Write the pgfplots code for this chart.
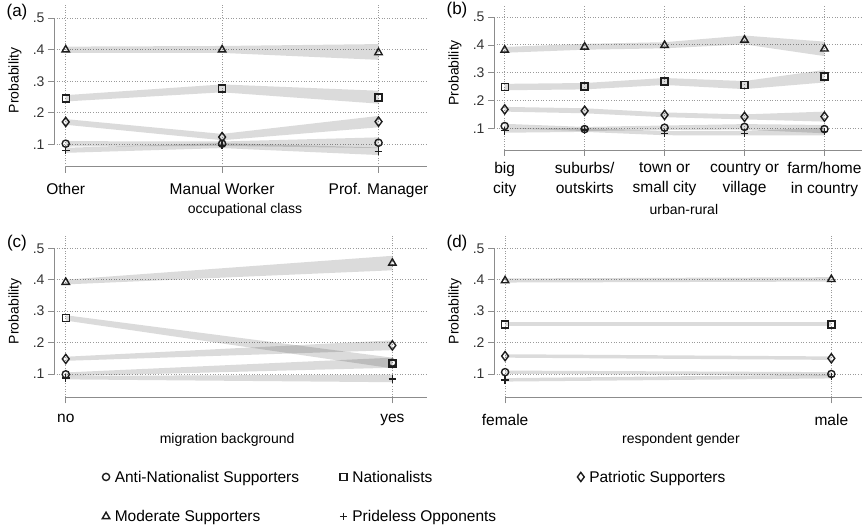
\documentclass[border=0pt]{standalone}
\usepackage{fontspec}
\setmainfont{Liberation Sans}
\usepackage{pgfplots}
\pgfplotsset{compat=1.18}

\definecolor{axisgray}{HTML}{8C8C8C}
\definecolor{gridgray}{HTML}{9A9A9A}
\definecolor{tickcol}{HTML}{333333}
\definecolor{mk}{HTML}{1E1E1E}

\newcommand{\catfont}{\fontsize{15.5}{20}\selectfont}
\newcommand{\tickfont}{\fontsize{14}{16}\selectfont}
\newcommand{\labfont}{\fontsize{14}{16}\selectfont}
\newcommand{\panfont}{\fontsize{17}{20}\selectfont}

\tikzset{
  axline/.style={draw=axisgray, line width=0.9pt},
  gridline/.style={draw=gridgray, line width=1pt, dash pattern=on 1pt off 1.6pt},
}

% dotted grid: horizontal at .1,...,.5 and vertical at each category
\newcommand{\hgrid}[2]{\pgfplotsinvokeforeach{0.1,0.2,0.3,0.4,0.5}{\draw[gridline] (axis cs:#1,##1) -- (axis cs:#2,##1);}}
\newcommand{\vgrid}[3]{\pgfplotsinvokeforeach{#1}{\draw[gridline] (axis cs:##1,#2) -- (axis cs:##1,#3);}}

\pgfplotsset{
  panel/.style={
    scale only axis, anchor=south west, clip=false,
    axis line style={draw=none},
    tick align=outside, xtick pos=left, ytick pos=left,
    major tick length=6pt,
    tick style={draw=axisgray, line width=0.9pt},
    ytick={0.1,0.2,0.3,0.4,0.5},
    yticklabels={.1,.2,.3,.4,.5},
    yticklabel style={font=\tickfont, text=tickcol},
    xticklabel style={font=\catfont, text=black, align=center, yshift=-7pt},
    ylabel={Probability},
    ylabel style={font=\labfont, at={(axis description cs:0,0.533)}, anchor=center, yshift=39pt},
    xlabel style={font=\labfont, anchor=center},
    title style={font=\panfont, at={(axis description cs:0,0.92)}, anchor=center, xshift=-37pt},
  },
  band/.style={draw=none, fill=black, fill opacity=0.14, forget plot},
  m/.style={only marks, mark options={draw=mk, fill=none, line width=1.4pt}},
  mcirc/.style={m, mark=o, mark size=3.6pt},
  msq/.style={m, mark=square, mark size=3.5pt},
  mdia/.style={m, mark=diamond, mark size=4.6pt},
  mtri/.style={m, mark=triangle, mark size=4.3pt},
  mplus/.style={m, mark=+, mark size=3.8pt},
}

\begin{document}
\begin{tikzpicture}
\useasboundingbox (0,0) rectangle (864pt,527pt);

% (a) occupational class
\begin{axis}[panel, at={(54pt,360.3pt)}, width=373pt, height=161.7pt,
  xmin=-0.075, xmax=2.31, ymin=0.029, ymax=0.542,
  xtick={0,1,2}, xticklabels={Other,Manual Worker,Prof. Manager},
  xlabel={occupational class},
  xlabel style={at={(axis description cs:0.512,0)}, yshift=-43pt},
  title={(a)}]
\hgrid{-0.075}{2.31}
\vgrid{0,1,2}{0.029}{0.542}
\addplot[band] coordinates {(0,0.390)(1,0.390)(2,0.368)(2,0.418)(1,0.412)(0,0.410)} -- cycle;
\addplot[band] coordinates {(0,0.236)(1,0.265)(2,0.229)(2,0.270)(1,0.290)(0,0.256)} -- cycle;
\addplot[band] coordinates {(0,0.162)(1,0.113)(2,0.154)(2,0.190)(1,0.133)(0,0.180)} -- cycle;
\addplot[band] coordinates {(0,0.093)(1,0.095)(2,0.088)(2,0.122)(1,0.109)(0,0.110)} -- cycle;
\addplot[band] coordinates {(0,0.073)(1,0.088)(2,0.066)(2,0.090)(1,0.104)(0,0.089)} -- cycle;
\addplot[mcirc] coordinates {(0,0.102)(1,0.102)(2,0.105)};
\addplot[msq] coordinates {(0,0.245)(1,0.277)(2,0.249)};
\addplot[mdia] coordinates {(0,0.171)(1,0.123)(2,0.172)};
\addplot[mtri] coordinates {(0,0.400)(1,0.400)(2,0.391)};
\addplot[mplus] coordinates {(0,0.081)(1,0.096)(2,0.078)};
\draw[axline] (axis cs:-0.075,0.1) -- (axis cs:-0.075,0.5);
\draw[axline] (axis cs:0,0.029) -- (axis cs:2.31,0.029);
\end{axis}

% (b) urban-rural
\begin{axis}[panel, at={(494pt,377pt)}, width=368pt, height=145pt,
  xmin=-0.134, xmax=4.47, ymin=0.0218, ymax=0.544,
  xtick={0,1,2,3,4},
  xticklabels={big\\city,suburbs/\\outskirts,town or\\small city,country or\\village,farm/home\\in country},
  xticklabel style={yshift=4pt},
  xlabel={urban-rural},
  xlabel style={at={(axis description cs:0.516,0)}, yshift=-60pt},
  title={(b)}]
\hgrid{-0.134}{4.47}
\vgrid{0,1,2,3,4}{0.0218}{0.544}
\addplot[band] coordinates {(0,0.372)(1,0.383)(2,0.388)(3,0.402)(4,0.360)(4,0.412)(3,0.434)(2,0.410)(1,0.404)(0,0.393)} -- cycle;
\addplot[band] coordinates {(0,0.237)(1,0.240)(2,0.256)(3,0.241)(4,0.265)(4,0.310)(3,0.270)(2,0.281)(1,0.263)(0,0.260)} -- cycle;
\addplot[band] coordinates {(0,0.160)(1,0.154)(2,0.140)(3,0.132)(4,0.124)(4,0.160)(3,0.150)(2,0.157)(1,0.172)(0,0.177)} -- cycle;
\addplot[band] coordinates {(0,0.100)(1,0.090)(2,0.094)(3,0.095)(4,0.082)(4,0.112)(3,0.115)(2,0.110)(1,0.105)(0,0.116)} -- cycle;
\addplot[band] coordinates {(0,0.084)(1,0.087)(2,0.075)(3,0.074)(4,0.074)(4,0.102)(3,0.091)(2,0.090)(1,0.101)(0,0.099)} -- cycle;
\addplot[mcirc] coordinates {(0,0.108)(1,0.097)(2,0.102)(3,0.105)(4,0.097)};
\addplot[msq] coordinates {(0,0.248)(1,0.251)(2,0.268)(3,0.255)(4,0.287)};
\addplot[mdia] coordinates {(0,0.168)(1,0.163)(2,0.148)(3,0.141)(4,0.142)};
\addplot[mtri] coordinates {(0,0.382)(1,0.393)(2,0.399)(3,0.418)(4,0.386)};
\addplot[mplus] coordinates {(0,0.091)(1,0.094)(2,0.082)(3,0.082)(4,0.088)};
\draw[axline] (axis cs:-0.134,0.1) -- (axis cs:-0.134,0.5);
\draw[axline] (axis cs:0,0.0218) -- (axis cs:4.47,0.0218);
\end{axis}

% (c) migration background
\begin{axis}[panel, at={(54pt,129.7pt)}, width=373pt, height=161.3pt,
  xmin=-0.036, xmax=1.106, ymin=0.026, ymax=0.539,
  xtick={0,1}, xticklabels={no,yes},
  xlabel={migration background},
  xlabel style={at={(axis description cs:0.464,0)}, yshift=-43pt},
  title={(c)},
  legend columns=3,
  legend style={at={(axis description cs:0.121,-0.426)}, anchor=north west,
    draw=none, fill=none, font=\catfont, row sep=24pt,
    nodes={inner sep=0pt},
    /tikz/every odd column/.append style={column sep=5pt}},
  legend image code/.code={\draw[#1] plot coordinates {(4pt,-1pt)};}]
\hgrid{-0.036}{1.106}
\vgrid{0,1}{0.026}{0.539}
\addplot[band] coordinates {(0,0.385)(1,0.430)(1,0.476)(0,0.400)} -- cycle;
\addplot[band] coordinates {(0,0.270)(1,0.118)(1,0.152)(0,0.287)} -- cycle;
\addplot[band] coordinates {(0,0.142)(1,0.176)(1,0.207)(0,0.155)} -- cycle;
\addplot[band] coordinates {(0,0.093)(1,0.120)(1,0.152)(0,0.105)} -- cycle;
\addplot[band] coordinates {(0,0.083)(1,0.074)(1,0.098)(0,0.094)} -- cycle;
\addplot[mcirc] coordinates {(0,0.099)(1,0.136)};
\addlegendentry{\makebox[225pt][l]{\strut Anti-Nationalist Supporters}}
\addplot[msq] coordinates {(0,0.278)(1,0.134)};
\addlegendentry{\makebox[225pt][l]{\strut Nationalists}}
\addplot[mdia] coordinates {(0,0.148)(1,0.191)};
\addlegendentry{\makebox[225pt][l]{\strut Patriotic Supporters}}
\addplot[mtri] coordinates {(0,0.392)(1,0.453)};
\addlegendentry{\makebox[225pt][l]{\strut Moderate Supporters}}
\addplot[mplus] coordinates {(0,0.088)(1,0.084)};
\addlegendentry{\makebox[225pt][l]{\strut Prideless Opponents}}
\draw[axline] (axis cs:-0.036,0.1) -- (axis cs:-0.036,0.5);
\draw[axline] (axis cs:0,0.026) -- (axis cs:1.106,0.026);
\end{axis}

% (d) respondent gender
\begin{axis}[panel, at={(494pt,129.7pt)}, width=368pt, height=161.3pt,
  xmin=-0.034, xmax=1.094, ymin=0.026, ymax=0.539,
  xtick={0,1}, xticklabels={female,male},
  xlabel={respondent gender},
  xlabel style={at={(axis description cs:0.508,0)}, yshift=-43pt},
  title={(d)}]
\hgrid{-0.034}{1.094}
\vgrid{0,1}{0.026}{0.539}
\addplot[band] coordinates {(0,0.391)(1,0.394)(1,0.408)(0,0.404)} -- cycle;
\addplot[band] coordinates {(0,0.252)(1,0.252)(1,0.265)(0,0.265)} -- cycle;
\addplot[band] coordinates {(0,0.152)(1,0.145)(1,0.156)(0,0.163)} -- cycle;
\addplot[band] coordinates {(0,0.101)(1,0.095)(1,0.106)(0,0.111)} -- cycle;
\addplot[band] coordinates {(0,0.076)(1,0.086)(1,0.098)(0,0.087)} -- cycle;
\addplot[mcirc] coordinates {(0,0.106)(1,0.100)};
\addplot[msq] coordinates {(0,0.258)(1,0.258)};
\addplot[mdia] coordinates {(0,0.157)(1,0.150)};
\addplot[mtri] coordinates {(0,0.397)(1,0.401)};
\addplot[mplus] coordinates {(0,0.081)(1,0.092)};
\draw[axline] (axis cs:-0.034,0.1) -- (axis cs:-0.034,0.5);
\draw[axline] (axis cs:0,0.026) -- (axis cs:1.094,0.026);
\end{axis}
\end{tikzpicture}
\end{document}
